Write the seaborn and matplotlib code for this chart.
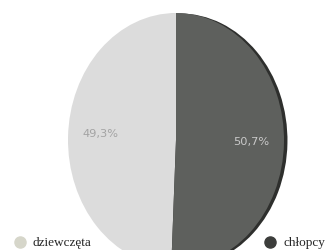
import matplotlib

matplotlib.use("Agg")
import matplotlib.pyplot as plt
import matplotlib.patheffects as pe
from matplotlib.lines import Line2D
import seaborn as sns

# ----------------------------------------------------------------------
# Data
# ----------------------------------------------------------------------
groups = ["dziewczęta", "chłopcy"]
shares = [49.3, 50.7]
slice_colors = ["#dcdcdc", "#5e605d"]
legend_colors = ["#d6d6ca", "#3c3d3b"]
label_colors = ["#a3a3a3", "#c9c9c9"]

sns.set_theme(style="white")

fig = plt.figure(figsize=(3.32, 2.5), dpi=100)
fig.patch.set_facecolor("white")

# axes placed so the (slightly stretched) pie sits like the reference
ax = fig.add_axes([68 / 332, -17 / 250, 216 / 332, 254 / 250])

wedges, texts, autotexts = ax.pie(
    shares,
    colors=slice_colors,
    startangle=90,
    counterclock=True,
    autopct=lambda p: f"{p:.1f}%".replace(".", ","),
    pctdistance=0.7,
    wedgeprops=dict(linewidth=0),
    textprops=dict(family="DejaVu Sans", fontsize=8.2),
)
ax.set_aspect("auto")
ax.set_xlim(-1, 1)
ax.set_ylim(-1, 1)

# dark rim on the right hand side (3D look)
for w in wedges:
    w.set_path_effects([
        pe.SimplePatchShadow(offset=(2.5, -0.3), shadow_rgbFace="#2e2f2d", alpha=1.0),
        pe.Normal(),
    ])

for t, c in zip(autotexts, label_colors):
    t.set_color(c)
# girls' label sits a little higher than the boys' one
x, y = autotexts[0].get_position()
autotexts[0].set_position((x, y + 0.03))

# legend: two entries far apart at the bottom
handles = [
    Line2D([], [], marker="o", linestyle="none", markersize=8,
           markerfacecolor=c, markeredgecolor=c)
    for c in legend_colors
]
fig.legend(
    handles, groups,
    loc="lower left", bbox_to_anchor=(0.0, -0.045),
    ncol=2, frameon=False,
    prop=dict(family="Liberation Serif", size=9.5),
    handletextpad=0.4, columnspacing=12.9, handlelength=1.2,
)

fig.savefig("out.png", dpi=100)
